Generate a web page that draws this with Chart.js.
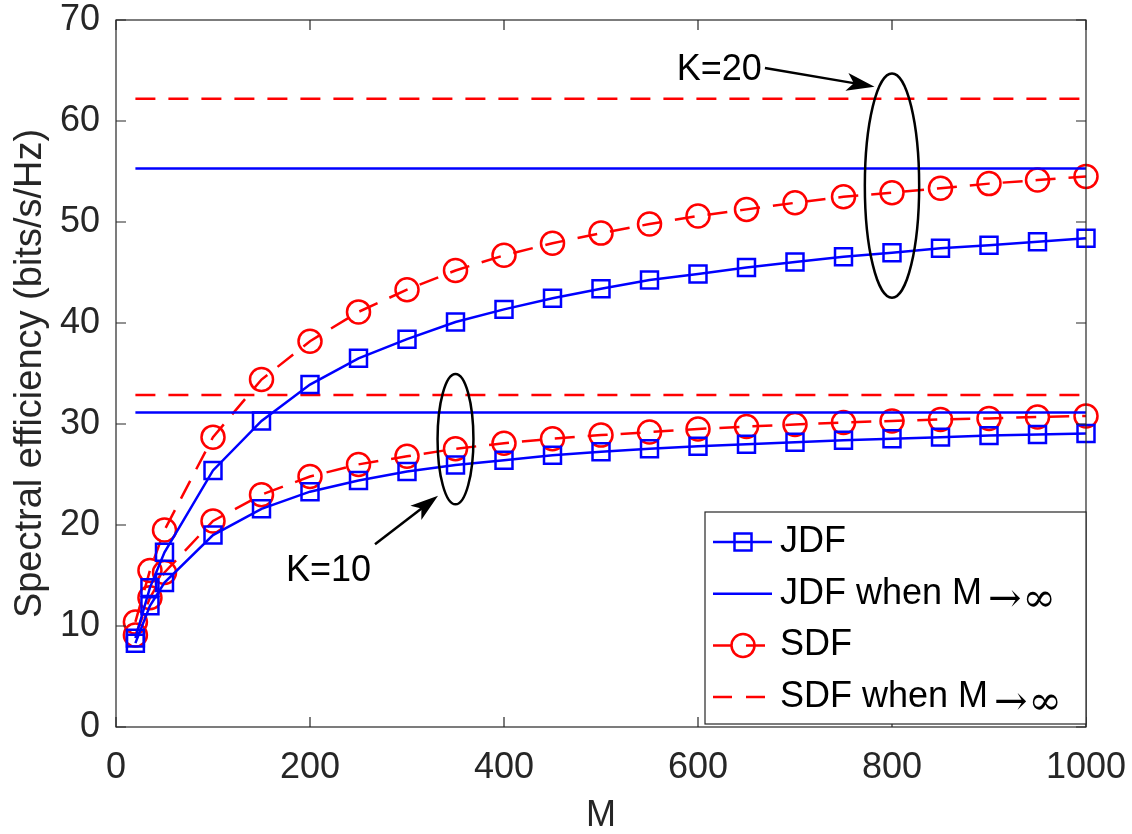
<!DOCTYPE html>
<html>
<head>
<meta charset="utf-8">
<title>Spectral efficiency versus M</title>
<script src="https://cdn.jsdelivr.net/npm/chart.js@4.4.1/dist/chart.umd.min.js"></script>
<style>
  html, body { margin: 0; padding: 0; background: #fff; }
</style>
</head>
<body>
<canvas id="myChart" width="1132" height="834"></canvas>
<script>
// number of BS antennas
const antennas = [20, 35, 50, 100, 150, 200, 250, 300, 350, 400, 450, 500, 550, 600, 650, 700, 750, 800, 850, 900, 950, 1000];

// K = 20 users
const jdfK20 = [8.8, 13.8, 17.3, 25.4, 30.3, 33.9, 36.5, 38.4, 40.1, 41.35, 42.45, 43.4, 44.25, 44.85, 45.5, 46.05, 46.55, 46.95, 47.4, 47.7, 48.05, 48.4];
const sdfK20 = [10.4, 15.5, 19.5, 28.7, 34.4, 38.2, 41.1, 43.3, 45.2, 46.7, 47.9, 48.9, 49.8, 50.6, 51.25, 51.9, 52.5, 52.9, 53.35, 53.8, 54.15, 54.5];
// K = 10 users
const jdfK10 = [8.3, 12.0, 14.3, 19.0, 21.6, 23.3, 24.4, 25.3, 25.95, 26.4, 26.9, 27.25, 27.55, 27.8, 28.0, 28.2, 28.4, 28.55, 28.7, 28.85, 28.95, 29.05];
const sdfK10 = [9.1, 12.8, 15.3, 20.4, 23.0, 24.8, 26.0, 26.8, 27.55, 28.1, 28.55, 28.9, 29.2, 29.5, 29.75, 29.95, 30.15, 30.3, 30.45, 30.55, 30.7, 30.8];

// asymptotes for M -> infinity
const jdfLimit = { k20: 55.3, k10: 31.15 };
const sdfLimit = { k20: 62.2, k10: 32.87 };

const xTicks = [0, 200, 400, 600, 800, 1000];
const yTicks = [0, 10, 20, 30, 40, 50, 60, 70];
const legendLabels = ['JDF', 'JDF when M', 'SDF', 'SDF when M'];

const BLUE = '#0000ff';
const RED = '#ff0000';
const AXIS = '#262626';
const FONT = '"Liberation Sans", Arial, Helvetica, sans-serif';
const MATH = '"DejaVu Serif", "Liberation Serif", serif';

const toPoints = (ys) => antennas.map((m, i) => ({ x: m, y: ys[i] }));
const flat = (v) => [{ x: antennas[0], y: v }, { x: antennas[antennas.length - 1], y: v }];

const curve = (label, ys, color, shape, dashed) => ({
  label,
  data: toPoints(ys),
  borderColor: color,
  borderWidth: 2.5,
  borderDash: dashed ? [20, 13] : [],
  pointStyle: shape,
  pointRadius: shape === 'rect' ? 12 : 11.5,
  pointBorderWidth: 2.5,
  pointBorderColor: color,
  pointBackgroundColor: 'rgba(0,0,0,0)',
  fill: false,
  clip: false,
});

const limit = (label, v, color, dashed) => ({
  label,
  data: flat(v),
  borderColor: color,
  borderWidth: 2.5,
  borderDash: dashed ? [20, 13] : [],
  pointRadius: 0,
  fill: false,
});

// box with inward ticks on all four sides, drawn over the data
const frame = {
  id: 'frame',
  afterDatasetsDraw(chart) {
    const { ctx, chartArea: a, scales: { x, y } } = chart;
    ctx.save();
    ctx.strokeStyle = AXIS;
    ctx.lineWidth = 1.2;
    ctx.strokeRect(a.left, a.top, a.right - a.left, a.bottom - a.top);
    ctx.beginPath();
    xTicks.forEach((v) => {
      const px = x.getPixelForValue(v);
      ctx.moveTo(px, a.bottom); ctx.lineTo(px, a.bottom - 10);
      ctx.moveTo(px, a.top); ctx.lineTo(px, a.top + 10);
    });
    yTicks.forEach((v) => {
      const py = y.getPixelForValue(v);
      ctx.moveTo(a.left, py); ctx.lineTo(a.left + 10, py);
      ctx.moveTo(a.right, py); ctx.lineTo(a.right - 10, py);
    });
    ctx.stroke();
    ctx.restore();
  },
};

function drawArrow(ctx, x1, y1, x2, y2) {
  const ang = Math.atan2(y2 - y1, x2 - x1);
  const len = 28;
  const hw = 9;
  const c = Math.cos(ang);
  const s = Math.sin(ang);
  const bx = x2 - len * c;
  const by = y2 - len * s;
  ctx.beginPath();
  ctx.moveTo(x1, y1);
  ctx.lineTo(x2 - len * 0.7 * c, y2 - len * 0.7 * s);
  ctx.stroke();
  ctx.beginPath();
  ctx.moveTo(x2, y2);
  ctx.lineTo(bx - hw * s, by + hw * c);
  ctx.lineTo(x2 - len * 0.75 * c, y2 - len * 0.75 * s);
  ctx.lineTo(bx + hw * s, by - hw * c);
  ctx.closePath();
  ctx.fill();
}

// ellipses around the K groups, with arrows and captions (data units)
const groups = [
  { text: 'K=20', tx: 622, ty: 65.0, ax1: 669, ay1: 65.25, ax2: 782, ay2: 63.4, cx: 800, cy: 53.6, rx: 28, ry: 11.1 },
  { text: 'K=10', tx: 219, ty: 15.45, ax1: 267, ay1: 18.1, ax2: 332, ay2: 22.9, cx: 350, cy: 28.5, rx: 18.5, ry: 6.45 },
];

const notes = {
  id: 'notes',
  afterDatasetsDraw(chart) {
    const { ctx, scales: { x, y } } = chart;
    ctx.save();
    ctx.strokeStyle = '#000';
    ctx.fillStyle = '#000';
    ctx.lineWidth = 2.5;
    groups.forEach((g) => {
      const cx = x.getPixelForValue(g.cx);
      const cy = y.getPixelForValue(g.cy);
      const rx = x.getPixelForValue(g.cx + g.rx) - cx;
      const ry = cy - y.getPixelForValue(g.cy + g.ry);
      ctx.beginPath();
      ctx.ellipse(cx, cy, rx, ry, 0, 0, Math.PI * 2);
      ctx.stroke();
      drawArrow(ctx, x.getPixelForValue(g.ax1), y.getPixelForValue(g.ay1),
        x.getPixelForValue(g.ax2), y.getPixelForValue(g.ay2));
      ctx.font = `36px ${FONT}`;
      ctx.textAlign = 'center';
      ctx.textBaseline = 'middle';
      ctx.fillText(g.text, x.getPixelForValue(g.tx), y.getPixelForValue(g.ty));
    });
    ctx.restore();
  },
};

// legend box in the lower right corner
const legendBox = {
  id: 'legendBox',
  afterDraw(chart) {
    const { ctx, chartArea: a } = chart;
    const left = 705;
    const top = 512;
    const right = a.right;
    const bottom = 724;
    ctx.save();
    ctx.fillStyle = '#fff';
    ctx.fillRect(left, top, right - left, bottom - top);
    ctx.strokeStyle = AXIS;
    ctx.lineWidth = 1.2;
    ctx.strokeRect(left, top, right - left, bottom - top);

    const rows = [
      { ds: chart.data.datasets[0], marker: 'rect' },
      { ds: chart.data.datasets[2], marker: null, arrow: true },
      { ds: chart.data.datasets[4], marker: 'circle' },
      { ds: chart.data.datasets[6], marker: null, arrow: true },
    ];
    rows.forEach((r, i) => {
      const yc = 542 + i * 51.7;
      const x1 = 713;
      const x2 = r.ds.borderDash.length ? 766 : 772;
      ctx.strokeStyle = r.ds.borderColor;
      ctx.lineWidth = 2.5;
      ctx.setLineDash(r.ds.borderDash.length ? [19, 14] : []);
      ctx.beginPath();
      ctx.moveTo(x1, yc);
      ctx.lineTo(x2, yc);
      ctx.stroke();
      ctx.setLineDash([]);
      const mx = 743;
      if (r.marker === 'rect') {
        ctx.strokeRect(mx - 8.5, yc - 8.5, 17, 17);
      } else if (r.marker === 'circle') {
        ctx.beginPath();
        ctx.arc(mx, yc, 11.5, 0, Math.PI * 2);
        ctx.stroke();
      }
      ctx.fillStyle = '#000';
      ctx.font = `36px ${FONT}`;
      ctx.textAlign = 'left';
      ctx.textBaseline = 'middle';
      const label = legendLabels[i];
      ctx.fillText(label, 780, yc);
      if (r.arrow) {
        const w = ctx.measureText(label).width;
        ctx.font = `40px ${MATH}`;
        const ax = 780 + w + 6;
        ctx.fillText('\u2192', ax, yc + 7);
        const aw = ctx.measureText('\u2192').width;
        ctx.fillText('\u221e', ax + aw + 1, yc + 7);
      }
    });
    ctx.restore();
  },
};

const ctx = document.getElementById('myChart');
// eslint-disable-next-line no-new
new Chart(ctx, {
  type: 'line',
  data: {
    datasets: [
      curve('JDF', jdfK20, BLUE, 'rect', false),
      curve('JDF (K=10)', jdfK10, BLUE, 'rect', false),
      limit('JDF when M\u2192\u221e', jdfLimit.k20, BLUE, false),
      limit('JDF when M\u2192\u221e (K=10)', jdfLimit.k10, BLUE, false),
      curve('SDF', sdfK20, RED, 'circle', true),
      curve('SDF (K=10)', sdfK10, RED, 'circle', true),
      limit('SDF when M\u2192\u221e', sdfLimit.k20, RED, true),
      limit('SDF when M\u2192\u221e (K=10)', sdfLimit.k10, RED, true),
    ],
  },
  options: {
    responsive: false,
    animation: false,
    events: [],
    layout: { padding: { left: 0, top: 20, right: 46, bottom: 0 } },
    plugins: {
      legend: { display: false },
      tooltip: { enabled: false },
    },
    scales: {
      x: {
        type: 'linear',
        min: 0,
        max: 1000,
        afterBuildTicks: (s) => { s.ticks = xTicks.map((v) => ({ value: v })); },
        afterFit: (s) => {
          s.height = 107;
          s.paddingLeft = 0;
          s.paddingRight = 0;
        },
        grid: { display: false },
        border: { display: false },
        ticks: {
          color: AXIS, padding: 11, maxRotation: 0, autoSkip: false,
          font: { family: FONT, size: 36 },
          callback: (v) => String(v),
        },
        title: {
          display: true, text: 'M', color: AXIS,
          font: { family: FONT, size: 36, lineHeight: 1 },
          padding: { top: 0, bottom: 0 },
        },
      },
      y: {
        min: 0,
        max: 70,
        afterBuildTicks: (s) => { s.ticks = yTicks.map((v) => ({ value: v })); },
        afterFit: (s) => {
          s.width = 116;
          s.paddingTop = 0;
          s.paddingBottom = 0;
        },
        grid: { display: false },
        border: { display: false },
        ticks: {
          color: AXIS, padding: 8, autoSkip: false,
          font: { family: FONT, size: 36 },
          callback: (v) => String(v),
        },
        title: {
          display: true, text: 'Spectral efficiency (bits/s/Hz)', color: AXIS,
          font: { family: FONT, size: 38, lineHeight: 1 },
          padding: { top: 12, bottom: 0 },
        },
      },
    },
  },
  plugins: [frame, notes, legendBox],
});
</script>
</body>
</html>
